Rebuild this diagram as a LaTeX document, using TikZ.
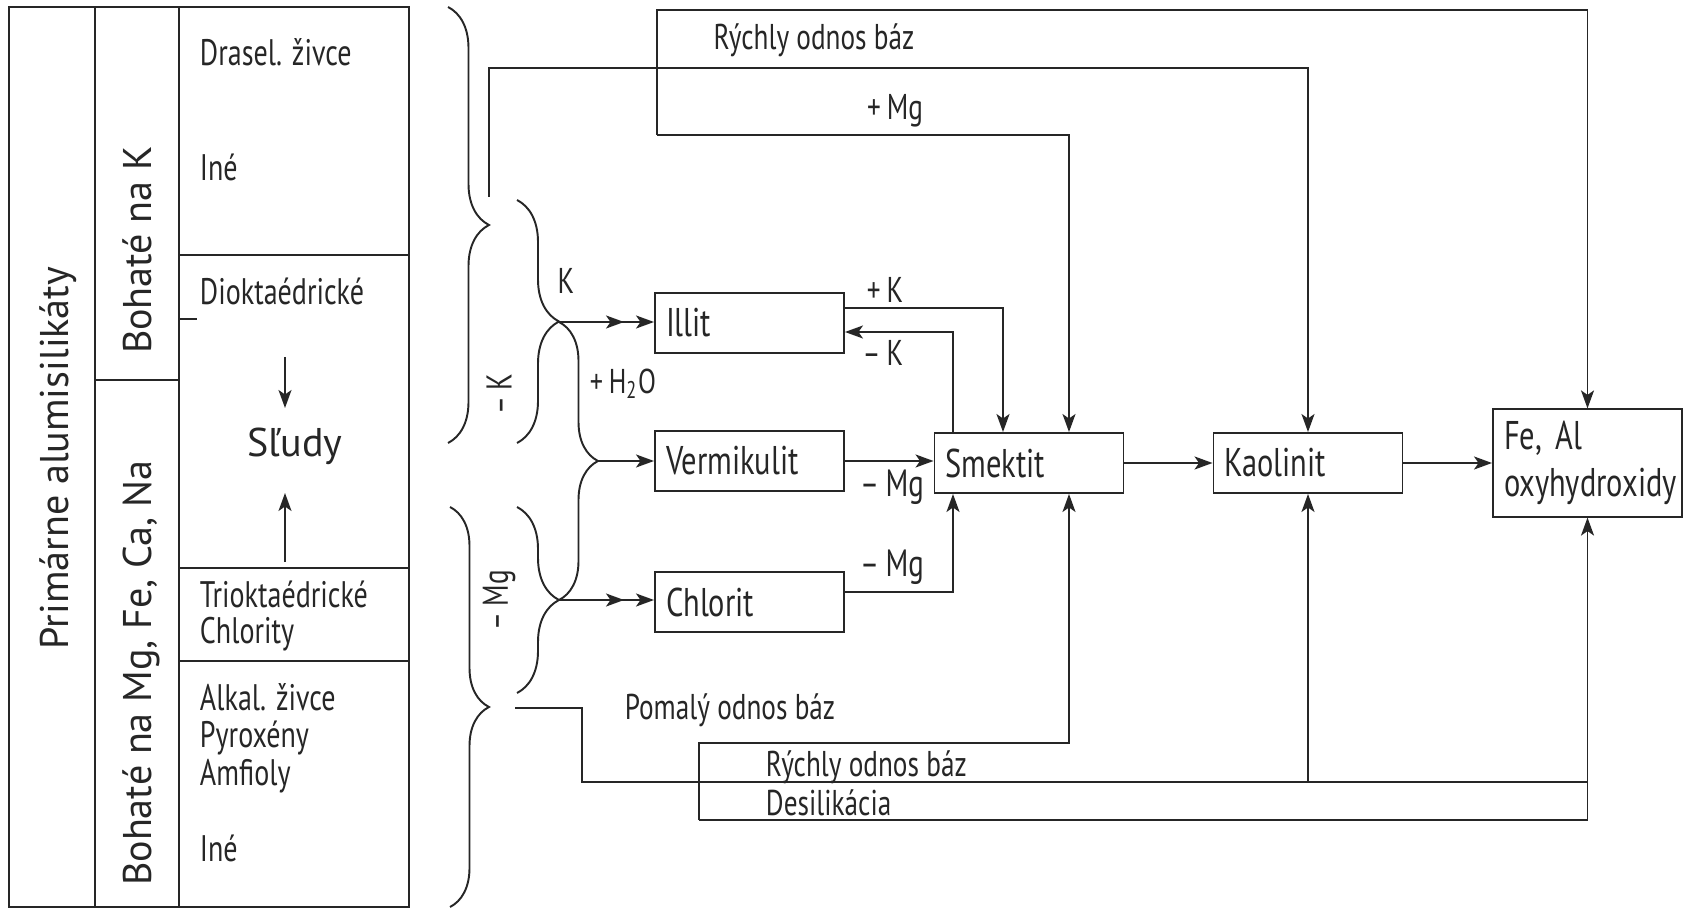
\documentclass[tikz,border=0pt]{standalone}
\usepackage{fontspec}
\setmainfont[FakeStretch=0.76]{PT Sans}
\newfontfamily\widefont{PT Sans}
\usetikzlibrary{arrows.meta, positioning, decorations.pathreplacing}

\begin{document}
\begin{tikzpicture}[x=0.1mm, y=-0.1mm, line width=0.55pt, color=black!85,
    box/.style={draw, minimum width=18.9mm, minimum height=6mm, inner xsep=1.1mm,
                text width=16.7mm, align=left, font=\fontsize{11.4}{13.4}\selectfont},
    lbl/.style={inner sep=0pt, font=\fontsize{10.2}{12}\selectfont},
    tbl/.style={inner sep=0pt, anchor=base west, font=\fontsize{10.5}{12}\selectfont},
    wide/.style={inner sep=0pt, anchor=base, font=\widefont\fontsize{11.4}{13}\selectfont},
    big/.style={wide, rotate=90},
    arr/.style={-{Stealth[length=1.8mm, width=1.3mm, inset=0.45mm]}},
    darr/.style={-{Stealth[length=1.8mm, width=1.3mm, inset=0.45mm, sep=1.2mm]
                   Stealth[length=1.8mm, width=1.3mm, inset=0.45mm]}},
    brc/.style={decorate, decoration={brace, amplitude=#1}},
  ]
  \useasboundingbox (0,0) rectangle (1690,909);

  % table of primary aluminosilicates
  \draw (9,7) rectangle (409,907);
  \draw (95,7) -- (95,907);
  \draw (179,7) -- (179,907);
  \draw (179,255) -- (409,255);
  \draw (95,380) -- (179,380);
  \draw (179,568) -- (409,568);
  \draw (179,661) -- (409,661);
  \draw (179,319) -- (197,319);
  \node[big] (prim) at (68,458) {Primárne alumisilikáty};
  \node[big] (bohk) at (151,250) {Bohaté na K};
  \node[big] (bohmg) at (151,673) {Bohaté na Mg, Fe, Ca, Na};
  \node[tbl] (dras) at (199,66) {Drasel. živce};
  \node[tbl] (ine1) at (199,181) {Iné};
  \node[tbl] (diok) at (199,305) {Dioktaédrické};
  \node[wide] (sludy) at (295,457) {Sľudy};
  \node[tbl] (triok) at (199,607) {Trioktaédrické};
  \node[tbl] (chlty) at (199,644) {Chlority};
  \node[tbl] (alk) at (199,710) {Alkal. živce};
  \node[tbl] (pyr) at (199,747) {Pyroxény};
  \node[tbl] (amf) at (199,785) {Amfioly};
  \node[tbl] (ine2) at (199,861) {Iné};
  \draw[arr] (285,357) -- (285,408);
  \draw[arr] (285,562) -- (285,493);

  % braces
  \draw[brc=4.1mm] (448,7) -- (448,443);
  \draw[brc=3.9mm] (450,507) -- (450,907);
  \draw[brc=4.2mm] (517,200) -- (517,443);
  \draw[brc=4.2mm] (517,507) -- (517,693);
  \coordinate (ktip) at (559,322);
  \coordinate (mgtip) at (559,600);
  \coordinate (wtip) at (598,461);
  \draw[brc=3.9mm] (ktip) -- (mgtip);
  \node[lbl, rotate=90] (lbk) at (499,394) {–\,K};
  \node[lbl, rotate=90] (lbm) at (499,600) {–\,Mg};

  % clay minerals
  \node[box] (illit) at (749.5,323) {Illit};
  \node[box] (verm) at (749.5,461) {Vermikulit};
  \node[box] (chlor) at (749.5,602) {Chlorit};
  \node[box] (smek) at (1029,463) {Smektit};
  \node[box] (kaol) at (1308,463) {Kaolinit};
  \node[box, minimum height=10.5mm] (feal) at (1587.5,463) {Fe, Al\\oxyhydroxidy};

  \draw[darr] (ktip) -- (ktip -| illit.west);
  \draw[arr] (wtip) -- (wtip -| verm.west);
  \draw[darr] (mgtip) -- (mgtip -| chlor.west);
  \node[lbl] (lk) at (566,281) {K};
  \node[lbl, font=\fontsize{9.8}{12}\selectfont] (lh) at (623,384) {+\,H\textsubscript{2}O};

  \coordinate (pk) at (1003,308);
  \coordinate (mk) at (953,332);
  \coordinate (cm) at (953,592);
  \draw[arr] (illit.east |- pk) -| (pk |- smek.north);
  \draw[arr] (mk |- smek.north) |- (illit.east |- mk);
  \draw[arr] (verm.east) -- (verm.east -| smek.west);
  \draw[arr] (chlor.east |- cm) -| (cm |- smek.south);
  \draw[arr] (smek.east) -- (smek.east -| kaol.west);
  \draw[arr] (kaol.east) -- (kaol.east -| feal.west);
  \node[lbl] (lpk) at (885,290) {+\,K};
  \node[lbl] (lmk) at (883,353) {–\,K};
  \node[lbl, font=\fontsize{10.8}{12}\selectfont] (lvm) at (892,487) {–\,Mg};
  \node[lbl, font=\fontsize{10.8}{12}\selectfont] (lcm) at (892,567) {–\,Mg};

  % upper flows
  \coordinate (kup) at (489,197);
  \coordinate (kt) at (1308,68);
  \coordinate (rt) at (657,10);
  \coordinate (rb) at (657,135);
  \coordinate (mgx) at (1069,135);
  \draw[arr] (kup) |- (kaol.north |- kt) -- (kaol.north);
  \draw[arr] (rb) |- (feal.north |- rt) -- (feal.north);
  \draw[arr] (rb) -- (mgx) -- (mgx |- smek.north);
  \node[lbl] (lr1) at (814,40) {Rýchly odnos báz};
  \node[lbl] (lmg) at (895,111) {+\,Mg};

  % lower flows
  \coordinate (kdn) at (515,708);
  \coordinate (bq) at (582,782);
  \coordinate (pt) at (699,743);
  \coordinate (pb) at (699,820);
  \coordinate (ps) at (1069,743);
  \draw[arr] (kdn) -| (bq) -- (bq -| feal.south) -- (feal.south);
  \draw[arr] (kaol.south |- bq) -- (kaol.south);
  \draw[arr] (pb) -- (pt) -- (ps) -- (ps |- smek.south);
  \draw (pb) -| (feal.south |- bq);
  \node[lbl] (lpom) at (730,710) {Pomalý odnos báz};
  \node[lbl, anchor=west] (lr2) at (765,767) {Rýchly odnos báz};
  \node[lbl, anchor=west] (ldes) at (765,803) {Desilikácia};
\end{tikzpicture}
\end{document}
